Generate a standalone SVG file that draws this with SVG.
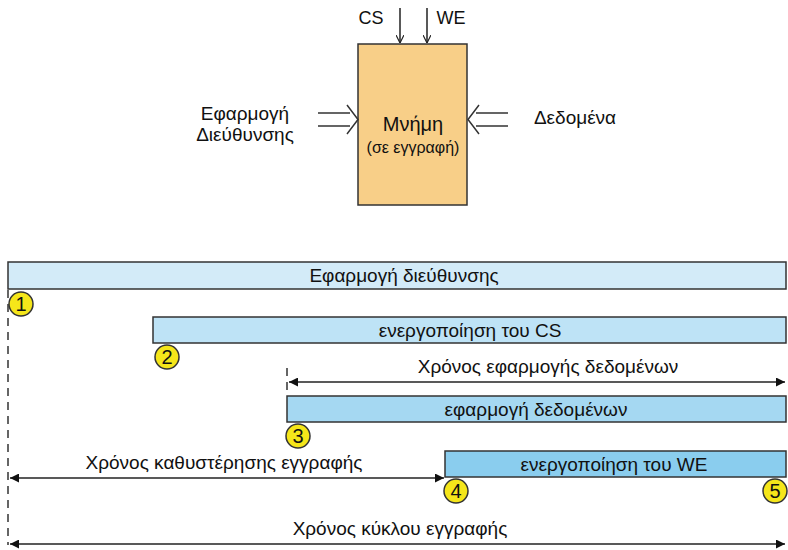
<svg xmlns="http://www.w3.org/2000/svg" width="788" height="550" viewBox="0 0 788 550">
<style>
text{font-family:"Liberation Sans",Arial,sans-serif;fill:#111}
.t{font-size:19px;text-anchor:middle}
.bar{stroke:#333;stroke-width:1.5}
.c{fill:#f5e61a;stroke:#333;stroke-width:1.5}
.n{font-size:20px;text-anchor:middle}
.ln{stroke:#222;stroke-width:1.5;fill:none}
.dash{stroke:#333;stroke-width:1.5;stroke-dasharray:8,6;fill:none}
</style>
<defs>
<marker id="ah" viewBox="0 0 10 10" refX="10" refY="5" markerWidth="12" markerHeight="9" markerUnits="userSpaceOnUse" orient="auto-start-reverse"><path d="M0,0L10,5L0,10z" fill="#111"/></marker>
<marker id="sa" viewBox="0 0 10 10" refX="10" refY="5" markerWidth="8" markerHeight="8" markerUnits="userSpaceOnUse" orient="auto"><path d="M0,0L10,5L0,10" fill="none" stroke="#222" stroke-width="1.5"/></marker>
</defs>
<g id="memory">
<rect x="358" y="44" width="109" height="161" fill="#f8cf88" stroke="#333" stroke-width="1.5"/>
<text x="413" y="131" style="font-size:20px;text-anchor:middle">Μνήμη</text>
<text x="413" y="153" style="font-size:16px;text-anchor:middle">(σε εγγραφή)</text>
</g>
<g id="cs-label"><text x="371" y="24" style="font-size:18px;text-anchor:middle">CS</text></g>
<g id="we-label"><text x="451" y="24" style="font-size:18px;text-anchor:middle">WE</text></g>
<g id="address-label"><text x="245" y="120" class="t">Εφαρμογή</text><text x="245" y="141" class="t">Διεύθυνσης</text></g>
<g id="data-label"><text x="575" y="124" class="t">Δεδομένα</text></g>
<g id="bar1"><rect class="bar" x="8" y="262" width="778" height="27" fill="#d3ebf8"/><text x="404" y="282" class="t">Εφαρμογή διεύθυνσης</text></g>
<g id="bar2"><rect class="bar" x="153" y="317" width="633" height="26" fill="#bee3f6"/><text x="470" y="337" class="t">ενεργοποίηση του CS</text></g>
<g id="bar3"><rect class="bar" x="287" y="396" width="499" height="26" fill="#a5d8f2"/><text x="536" y="416" class="t">εφαρμογή δεδομένων</text></g>
<g id="bar4"><rect class="bar" x="445" y="451" width="341" height="26" fill="#8acdee"/><text x="614" y="471" class="t">ενεργοποίηση του WE</text></g>
<g id="m1"><circle class="c" cx="21" cy="304" r="12"/><text class="n" x="21" y="311">1</text></g>
<g id="m2"><circle class="c" cx="167" cy="357" r="12"/><text class="n" x="167" y="364">2</text></g>
<g id="m3"><circle class="c" cx="298" cy="436" r="12"/><text class="n" x="298" y="443">3</text></g>
<g id="m4"><circle class="c" cx="456" cy="491" r="12"/><text class="n" x="456" y="498">4</text></g>
<g id="m5"><circle class="c" cx="775" cy="491" r="12"/><text class="n" x="775" y="498">5</text></g>
<g id="connectors">
<line class="ln" x1="400" y1="8" x2="400" y2="43" marker-end="url(#sa)"/>
<line class="ln" x1="427" y1="8" x2="427" y2="43" marker-end="url(#sa)"/>
<path d="M318,113H350M318,126H350M347,105L358,119.5L347,134" fill="none" stroke="#333" stroke-width="1.5"/>
<path d="M508,113H476M508,126H476M479,105L468,119.5L479,134" fill="none" stroke="#333" stroke-width="1.5"/>
<line class="dash" x1="8" y1="290" x2="8" y2="545"/>
<line class="dash" x1="287" y1="368" x2="287" y2="396"/>
<line class="ln" x1="289" y1="382" x2="785" y2="382" marker-start="url(#ah)" marker-end="url(#ah)"/>
<line class="ln" x1="10" y1="478" x2="444" y2="478" marker-start="url(#ah)" marker-end="url(#ah)"/>
<line class="ln" x1="10" y1="544" x2="785" y2="544" marker-start="url(#ah)" marker-end="url(#ah)"/>
</g>
<g id="labels">
<text x="548" y="373" class="t">Χρόνος εφαρμογής δεδομένων</text>
<text x="224" y="469" class="t">Χρόνος καθυστέρησης εγγραφής</text>
<text x="400" y="535" class="t">Χρόνος κύκλου εγγραφής</text>
</g>
</svg>
